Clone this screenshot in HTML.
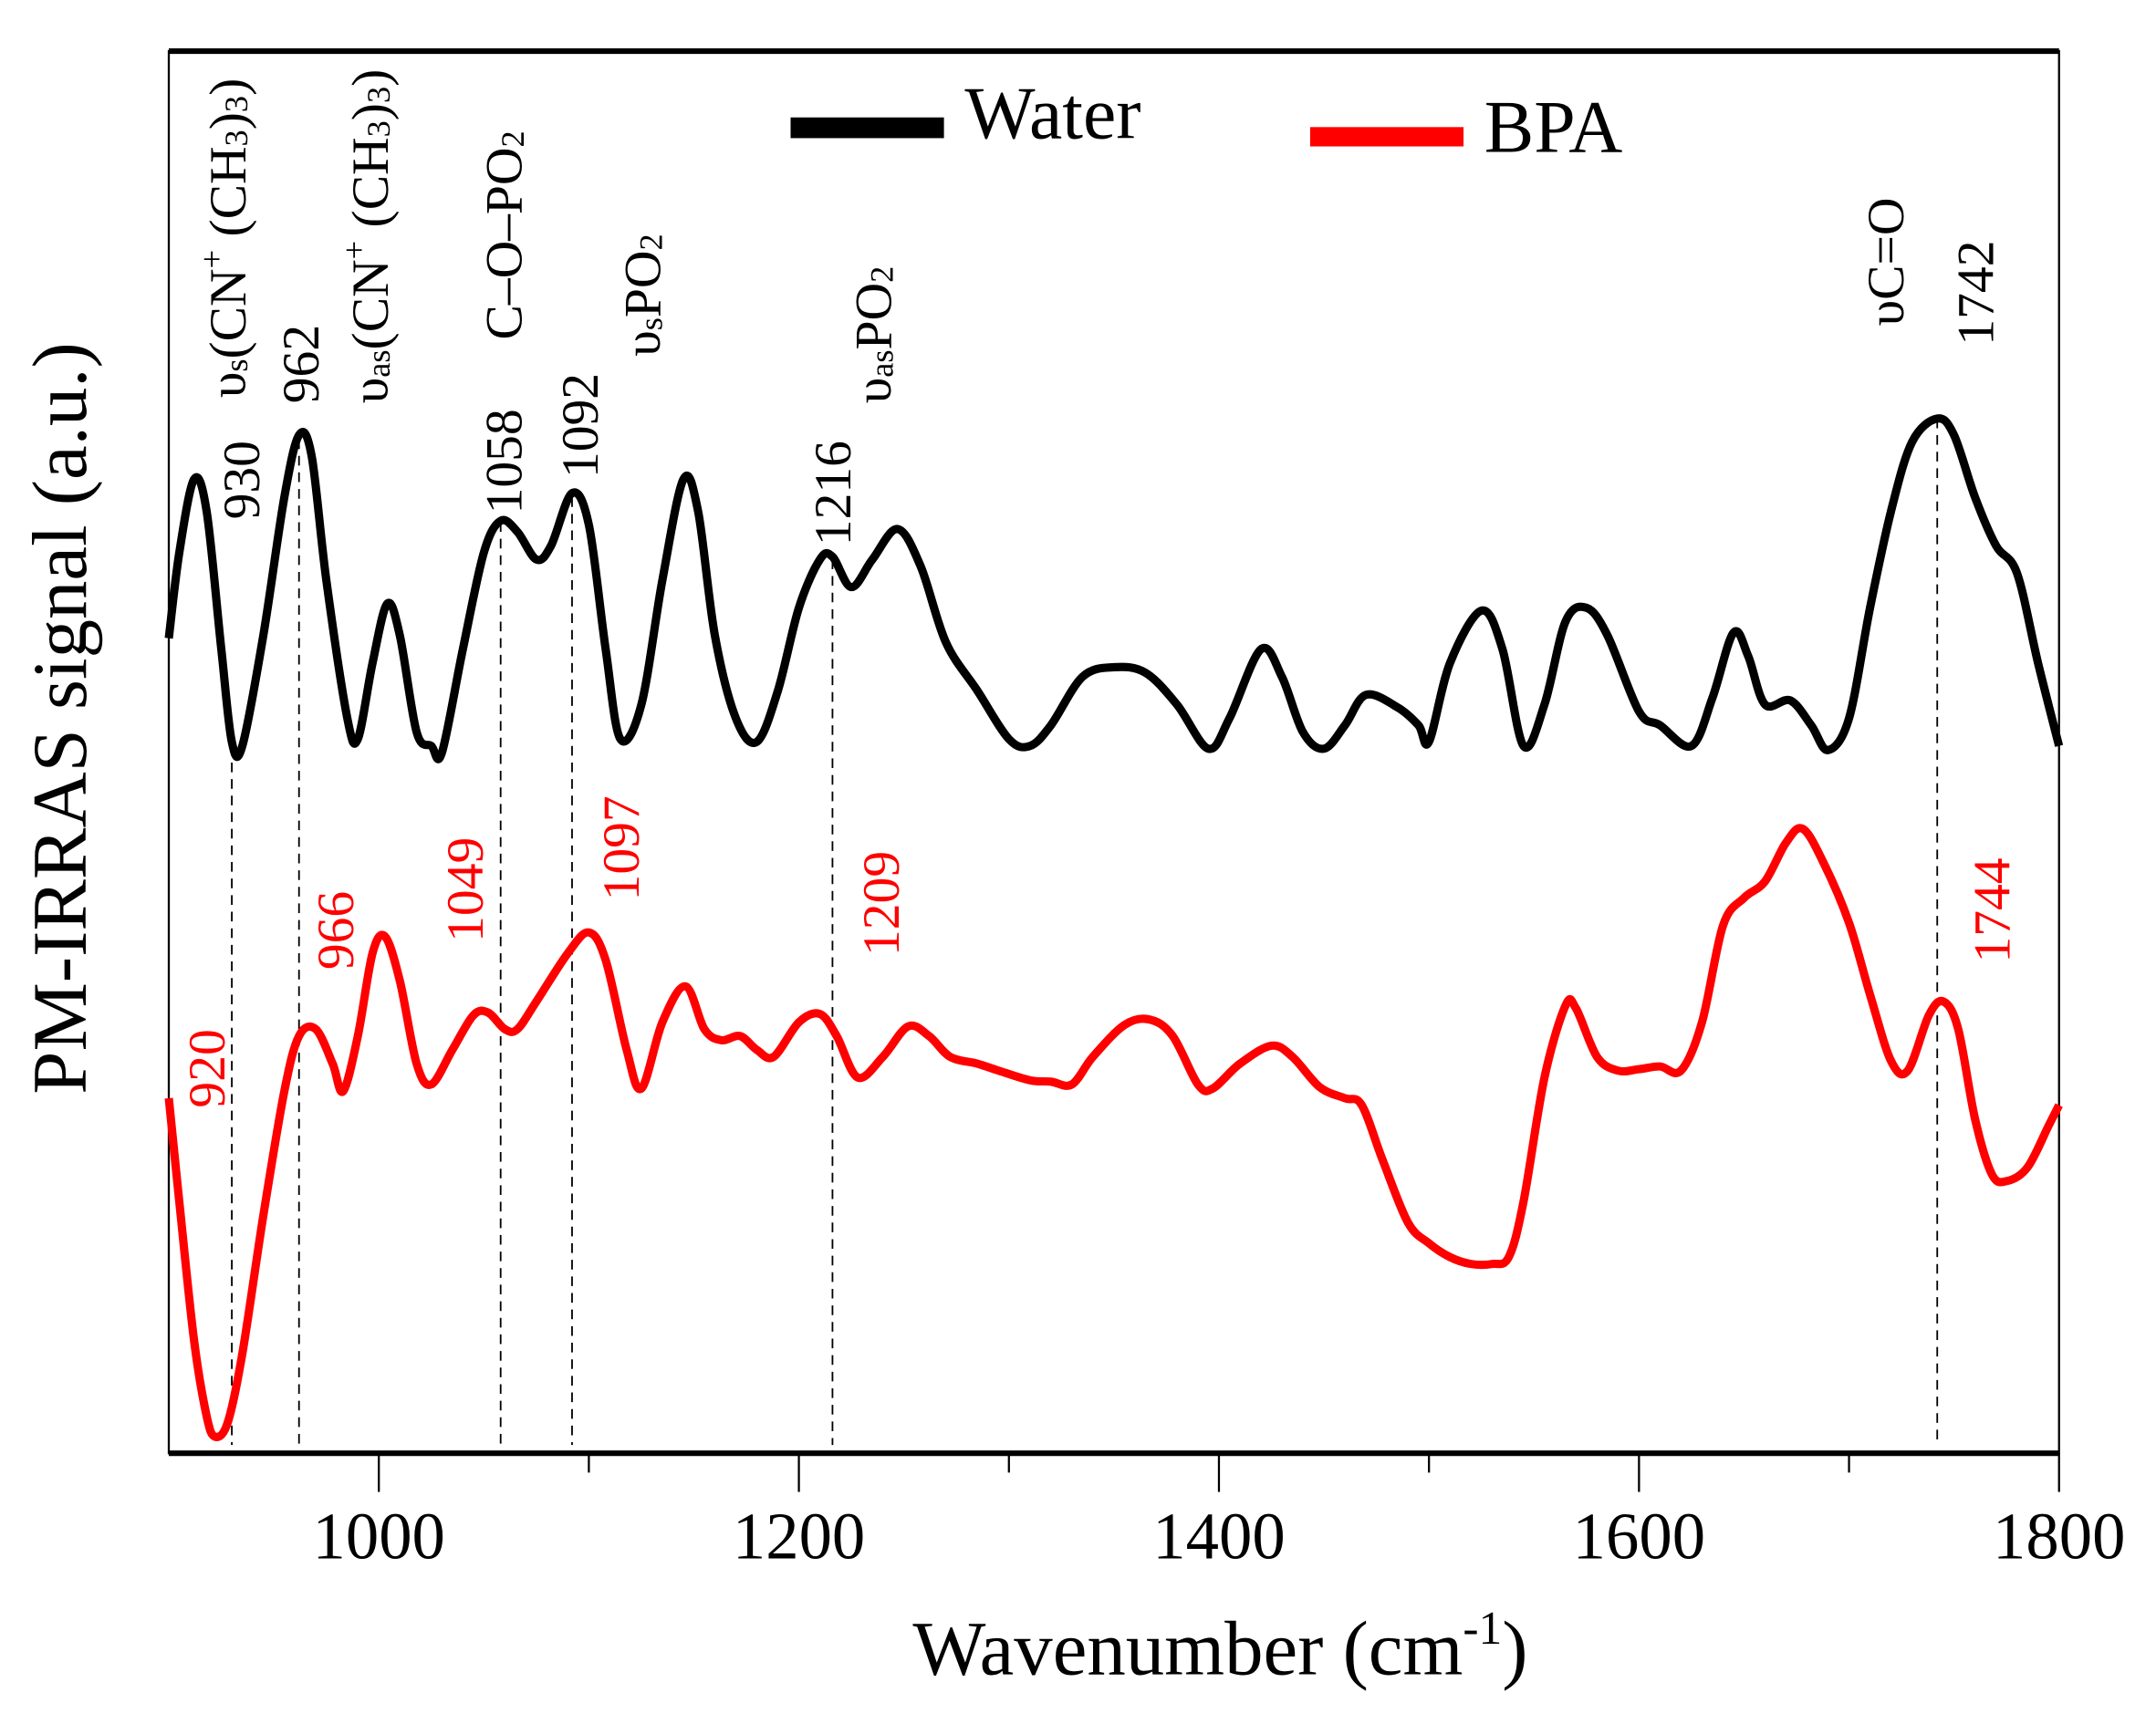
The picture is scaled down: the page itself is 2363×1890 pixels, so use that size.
<!DOCTYPE html>
<html><head><meta charset="utf-8"><style>
html,body{margin:0;padding:0;background:#fff}
svg{display:block}
text{font-family:"Liberation Serif",serif}
</style></head><body>
<svg id="chart" width="2363" height="1890" viewBox="0 0 1560 1248" xmlns="http://www.w3.org/2000/svg">
<g id="frame"></g>
<g id="marks"></g>
<g id="annos"></g>
<g>
<rect x="572" y="85" width="111" height="15" fill="#000"/>
<text x="698" y="100" font-size="54">Water</text>
<rect x="948" y="92" width="111" height="14" fill="#f00"/>
<text x="1074" y="110" font-size="54">BPA</text>
</g>
<text x="883" y="1212" font-size="56" text-anchor="middle">Wavenumber (cm<tspan dy="-22" font-size="34">-1</tspan><tspan dy="22">)</tspan></text>
<text transform="translate(62,520) rotate(-90)" font-size="56" text-anchor="middle">PM-IRRAS signal (a.u.)</text>
</svg>
<script>
const waterX=[900,905,912,918,925,930,935,945,955,962,968,975,985,990,997,1004,1010,1018,1025,1030,1040,1050,1058,1066,1075,1082,1092,1100,1108,1115,1125,1135,1145,1152,1160,1170,1180,1190,1200,1210,1216,1225,1235,1247,1258,1270,1285,1300,1310,1320,1335,1350,1365,1380,1395,1405,1420,1430,1440,1450,1460,1470,1485,1495,1500,1510,1525,1535,1545,1555,1565,1575,1585,1600,1610,1625,1635,1645,1652,1660,1672,1682,1690,1700,1710,1720,1730,1742,1750,1760,1770,1780,1790,1800];
const waterY=[590,652,705,682,582,515,512,592,692,737,722,632,532,517,572,615,592,522,512,507,582,652,675,667,647,657,695,672,582,517,542,632,705,682,592,532,515,552,612,647,649,627,647,669,642,587,552,517,512,527,562,569,565,542,510,532,582,562,522,510,527,549,540,527,515,572,610,582,512,542,602,612,592,537,527,512,547,594,577,542,545,527,509,532,612,682,732,749,737,692,657,637,572,512];
const bpaX=[900,905,912,918,922,928,935,945,955,962,970,978,983,990,997,1003,1010,1018,1025,1035,1045,1052,1060,1066,1075,1090,1100,1108,1118,1125,1135,1146,1155,1163,1172,1180,1188,1200,1210,1218,1228,1240,1252,1262,1272,1285,1295,1310,1320,1330,1340,1355,1367,1378,1390,1397,1410,1425,1435,1448,1460,1468,1478,1490,1500,1510,1520,1530,1538,1545,1555,1565,1570,1580,1590,1600,1610,1620,1630,1640,1650,1660,1670,1678,1688,1700,1710,1720,1728,1738,1745,1752,1760,1768,1775,1785,1795,1800];
const bpaY=[257,182,82,27,12,22,72,172,262,302,307,282,262,302,362,374,342,282,267,292,317,319,307,307,327,362,377,357,292,264,312,338,307,299,302,292,287,312,318,302,272,287,309,302,287,282,277,270,269,267,287,310,314,302,267,264,282,295,287,265,257,252,212,167,152,142,137,137,142,182,272,324,322,287,277,278,280,277,312,382,402,414,442,452,427,384,332,284,277,317,327,307,242,202,197,207,237,252];
const xTicks=[1000,1200,1400,1600,1800];
const xMinor=[900,1000,1100,1200,1300,1400,1500,1600,1700,1800];
const dashX=[930,962,1058,1092,1216,1742];
const dashTop=[512,734,674,692,647,749];
const L=122,R=1490,T=37,B=1052;
const xs=v=>L+(v-900)/900*(R-L);
const ys=s=>B-s;
const NS='http://www.w3.org/2000/svg';
function mk(tag,attrs,parent){const e=document.createElementNS(NS,tag);for(const k in attrs)e.setAttribute(k,attrs[k]);parent.appendChild(e);return e;}
const frame=document.getElementById('frame');
let r=mk('rect',{x:L,y:T,width:R-L,height:B-T,fill:'none',stroke:'#000','stroke-width':1.5},frame);


let tl=mk('line',{x1:L,y1:T,x2:R,y2:T,stroke:'#000','stroke-width':4},frame);


let bl=mk('line',{x1:L,y1:B,x2:R,y2:B,stroke:'#000','stroke-width':4},frame);


xMinor.forEach(v=>{const major=xTicks.includes(v)||v===900;
 if(v===900)return;
 const t=mk('line',{x1:xs(v),y1:B,x2:xs(v),y2:B+(major?28:14),stroke:'#000','stroke-width':1.5},frame);
 
 });
xTicks.forEach(v=>{const t=mk('text',{x:xs(v),y:1128,'font-size':48,'text-anchor':'middle'},frame);t.textContent=v;
 
 });
const marks=document.getElementById('marks');
dashX.forEach((v,i)=>{const d=mk('line',{x1:xs(v),y1:ys(dashTop[i]),x2:xs(v),y2:1046,stroke:'#000','stroke-width':1.2,'stroke-dasharray':'7,5'},marks);
 
 });
function path(X,Y){const p=X.map((x,i)=>[xs(x),ys(Y[i])]);let d='M'+p[0][0]+','+p[0][1];
 for(let i=0;i<p.length-1;i++){const p0=p[Math.max(0,i-1)],p1=p[i],p2=p[i+1],p3=p[Math.min(p.length-1,i+2)];
 d+=' C'+(p1[0]+(p2[0]-p0[0])/6)+','+(p1[1]+(p2[1]-p0[1])/6)+' '+(p2[0]-(p3[0]-p1[0])/6)+','+(p2[1]-(p3[1]-p1[1])/6)+' '+p2[0]+','+p2[1];}
 return d;}
const w=mk('path',{d:path(waterX,waterY),fill:'none',stroke:'#000','stroke-width':6,'stroke-linejoin':'round'},marks);


const b=mk('path',{d:path(bpaX,bpaY),fill:'none',stroke:'#f00','stroke-width':6,'stroke-linejoin':'round'},marks);


</script>
<script>
(function(){
const NS='http://www.w3.org/2000/svg';
const g=document.getElementById('annos');
const items=[
 [175,376,'930','#000','930'],
 [218,292,'962','#000','962'],
 [365,372,'1058','#000','1058'],
 [420,346,'1092','#000','1092'],
 [603,395,'1216','#000','1216'],
 [1430,250,'1742','#000','1742'],
 [150,802,'920','#f00','920'],
 [243,702,'966','#f00','966'],
 [337,682,'1049','#f00','1049'],
 [450,652,'1097','#f00','1097'],
 [638,692,'1209','#f00','1209'],
 [1442,697,'1744','#f00','1744']];
items.forEach(it=>{const t=document.createElementNS(NS,'text');
 t.setAttribute('transform','translate('+it[0]+','+it[1]+') rotate(-90)');
 t.setAttribute('font-size','38');t.setAttribute('fill',it[3]);t.setAttribute('dominant-baseline','central');
 t.textContent=it[2];
 
 
 g.appendChild(t);});
const rich=[
 [165,288,'υ<tspan font-size="24" dy="6">s</tspan><tspan dy="-6">(CN</tspan><tspan font-size="24" dy="-12">+</tspan><tspan dy="12"> (CH</tspan><tspan font-size="24" dy="6">3</tspan><tspan dy="-6">)</tspan><tspan font-size="24" dy="6">3</tspan><tspan dy="-6">)</tspan>','vs-cn-label'],
 [268,292,'υ<tspan font-size="24" dy="6">as</tspan><tspan dy="-6">(CN</tspan><tspan font-size="24" dy="-12">+</tspan><tspan dy="12"> (CH</tspan><tspan font-size="24" dy="6">3</tspan><tspan dy="-6">)</tspan><tspan font-size="24" dy="6">3</tspan><tspan dy="-6">)</tspan>','vas-cn-label'],
 [365,246,'C–O–PO<tspan font-size="24" dy="6">2</tspan>','c-o-po2-label'],
 [465,258,'υ<tspan font-size="24" dy="6">s</tspan><tspan dy="-6">PO</tspan><tspan font-size="24" dy="6">2</tspan>','vs-po2-label'],
 [632,292,'υ<tspan font-size="24" dy="6">as</tspan><tspan dy="-6">PO</tspan><tspan font-size="24" dy="6">2</tspan>','vas-po2-label'],
 [1365,236,'υC=O','vc-o-label']];
rich.forEach(it=>{const t=document.createElementNS(NS,'text');
 t.setAttribute('transform','translate('+it[0]+','+it[1]+') rotate(-90)');
 t.setAttribute('font-size','38');t.setAttribute('dominant-baseline','central');
 t.innerHTML=it[2];
 
 
 g.appendChild(t);});
})();
</script>
</body></html>
